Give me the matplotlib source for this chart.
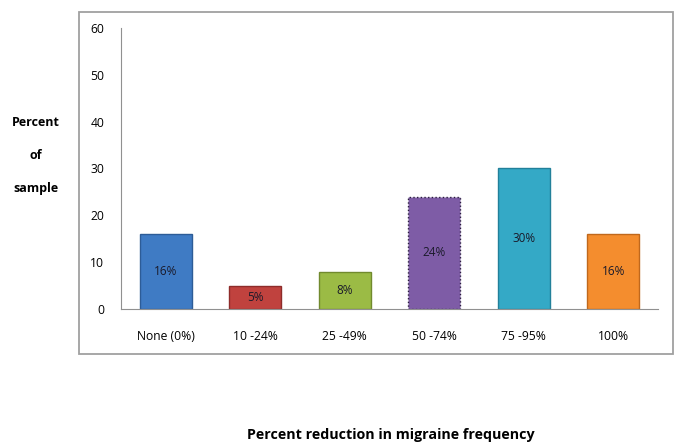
import matplotlib.pyplot as plt
from matplotlib.patches import Rectangle

categories = ['None (0%)', '10 -24%', '25 -49%', '50 -74%', '75 -95%', '100%']
percent = [16, 5, 8, 24, 30, 16]
bar_labels = ['16%', '5%', '8%', '24%', '30%', '16%']
colors = ['#3f7bc4', '#c0423e', '#9bbb45', '#7e5ca6', '#34a9c6', '#f48d2e']
edges = ['#2d5c97', '#8e2c2a', '#718a2e', '#3d2a5a', '#22809a', '#c0681c']

plt.rcParams['font.family'] = ['Open Sans', 'DejaVu Sans']

fig = plt.figure(figsize=(6.85, 4.48), dpi=100)
ax = fig.add_axes([0.1766, 0.3103, 0.784, 0.6272])

# outer chart frame
fig.patches.append(Rectangle((0.1153, 0.2098), 0.867, 0.764, transform=fig.transFigure,
                             fill=False, edgecolor='#a0a0a0', linewidth=1.3))

x = range(len(categories))
bars = ax.bar(x, percent, width=0.58, color=colors, edgecolor=edges, linewidth=1)
bars[3].set_linestyle(':')
bars[3].set_edgecolor('#2a1d40')

for i, (v, lab) in enumerate(zip(percent, bar_labels)):
    ax.text(i, v / 2, lab, ha='center', va='center', fontsize=8.5, color='#1a1a2a')

ax.set_xlim(-0.5, 5.5)
ax.set_ylim(0, 60)
ax.set_yticks(range(0, 61, 10))
ax.set_xticks(list(x))
ax.set_xticklabels(categories)
ax.tick_params(axis='both', length=0, labelsize=8.7)
ax.tick_params(axis='y', pad=12)
ax.tick_params(axis='x', pad=15)
for s in ['top', 'right']:
    ax.spines[s].set_visible(False)
for s in ['left', 'bottom']:
    ax.spines[s].set_color('#909090')

fig.text(0.052, 0.654, 'Percent\n\nof\n\nsample', ha='center', va='center',
         fontsize=9, fontweight='bold', linespacing=1.35)
fig.text(0.57, 0.028, 'Percent reduction in migraine frequency', ha='center', va='center',
         fontsize=10.3, fontweight='bold')

fig.savefig('out.png', dpi=100)
